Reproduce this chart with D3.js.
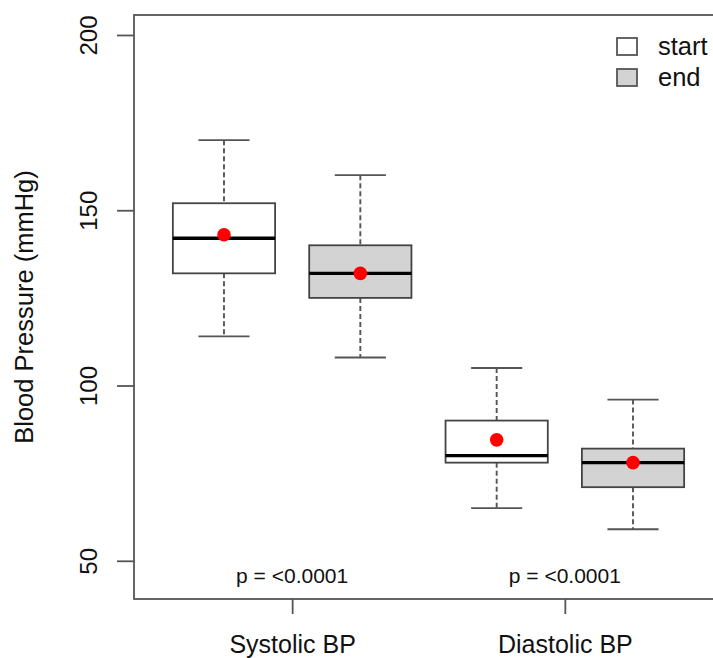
<!DOCTYPE html>
<html>
<head>
<meta charset="utf-8">
<script src="https://cdn.jsdelivr.net/npm/d3@7"></script>
<style>
  body { margin: 0; background: #fff; }
  svg { display: block; font-family: "Liberation Sans", Arial, sans-serif; }
</style>
</head>
<body>
<div id="chart"></div>
<script>
// groups on the x axis and the two time points
var groups = ["Systolic BP", "Diastolic BP"];
var phases = ["start", "end"];
var phaseFill = ["#ffffff", "#d3d3d3"];

// box stats per box, in order: Systolic start, Systolic end, Diastolic start, Diastolic end
var whiskerLow  = [114, 108, 65, 59];
var quart1      = [132, 125, 78, 71];
var medians     = [142, 132, 80, 78];
var quart3      = [152, 140, 90, 82];
var whiskerHigh = [170, 160, 105, 96];
var means       = [143, 132, 84.5, 78];

var pLabels = ["p = <0.0001", "p = <0.0001"];
var yTicks = [50, 100, 150, 200];

var width = 713, height = 658;
var margin = {top: 15, right: -10, bottom: 59, left: 134};
var plotW = width - margin.left - margin.right,
    plotH = height - margin.top - margin.bottom;

var svg = d3.select("#chart").append("svg")
    .attr("width", width)
    .attr("height", height);

var g = svg.append("g")
    .attr("transform", "translate(" + margin.left + "," + margin.top + ")");

// box positions 1..4 like R's boxplot, with the 4% padding
var xScale = d3.scaleLinear()
    .domain([0.34, 4.66])
    .range([0, plotW]);

var yScale = d3.scaleLinear()
    .domain([39.1, 205.7])
    .range([plotH, 0]);

var unit = xScale(2) - xScale(1);
var boxW = unit * 0.75;

var boxes = [];
groups.forEach(function(grp, gi) {
  phases.forEach(function(ph, pi) {
    var i = gi * 2 + pi;
    boxes.push({
      pos: i + 1, phase: pi,
      lo: whiskerLow[i], q1: quart1[i], med: medians[i],
      q3: quart3[i], hi: whiskerHigh[i], mean: means[i]
    });
  });
});

// frame
g.append("rect")
    .attr("x", 0).attr("y", 0)
    .attr("width", plotW).attr("height", plotH)
    .attr("fill", "none")
    .attr("stroke", "#555")
    .attr("stroke-width", 1.8);

// y axis
var yAxis = g.append("g")
    .call(d3.axisLeft(yScale).tickValues(yTicks).tickSize(17).tickPadding(0).tickFormat(d3.format("d")));
yAxis.select(".domain").remove();
yAxis.selectAll(".tick line").attr("stroke", "#555").attr("stroke-width", 1.8);
yAxis.selectAll(".tick text")
    .attr("transform", "rotate(-90)")
    .attr("x", 0).attr("y", -37)
    .attr("dy", 0)
    .attr("text-anchor", "middle")
    .style("font-size", "24px")
    .style("font-family", "'Liberation Sans', Arial, sans-serif")
    .attr("fill", "#111");

// x axis at group centres
var xAxis = g.append("g")
    .attr("transform", "translate(0," + plotH + ")")
    .call(d3.axisBottom(xScale).tickValues([1.5, 3.5]).tickSize(15).tickPadding(0)
      .tickFormat(function(d, i) { return groups[i]; }));
xAxis.select(".domain").remove();
xAxis.selectAll(".tick line").attr("stroke", "#555").attr("stroke-width", 1.8);
xAxis.selectAll(".tick text")
    .attr("y", 54).attr("dy", 0)
    .style("font-size", "25px")
    .style("font-family", "'Liberation Sans', Arial, sans-serif")
    .attr("fill", "#111");

// axis title
svg.append("text")
    .attr("transform", "translate(33," + (margin.top + plotH / 2) + ") rotate(-90)")
    .attr("text-anchor", "middle")
    .style("font-size", "25.5px")
    .attr("fill", "#111")
    .text("Blood Pressure (mmHg)");

// whiskers
var bx = g.selectAll(".box").data(boxes).enter().append("g").attr("class", "box");

bx.append("line")
    .attr("x1", function(d) { return xScale(d.pos); })
    .attr("x2", function(d) { return xScale(d.pos); })
    .attr("y1", function(d) { return yScale(d.hi); })
    .attr("y2", function(d) { return yScale(d.q3); })
    .attr("stroke", "#555").attr("stroke-width", 1.9).attr("stroke-dasharray", "5,3");
bx.append("line")
    .attr("x1", function(d) { return xScale(d.pos); })
    .attr("x2", function(d) { return xScale(d.pos); })
    .attr("y1", function(d) { return yScale(d.q1); })
    .attr("y2", function(d) { return yScale(d.lo); })
    .attr("stroke", "#555").attr("stroke-width", 1.9).attr("stroke-dasharray", "5,3");

["hi", "lo"].forEach(function(k) {
  bx.append("line")
      .attr("x1", function(d) { return xScale(d.pos) - boxW / 4; })
      .attr("x2", function(d) { return xScale(d.pos) + boxW / 4; })
      .attr("y1", function(d) { return yScale(d[k]); })
      .attr("y2", function(d) { return yScale(d[k]); })
      .attr("stroke", "#555").attr("stroke-width", 1.8);
});

bx.append("rect")
    .attr("x", function(d) { return xScale(d.pos) - boxW / 2; })
    .attr("y", function(d) { return yScale(d.q3); })
    .attr("width", boxW)
    .attr("height", function(d) { return yScale(d.q1) - yScale(d.q3); })
    .attr("fill", function(d) { return phaseFill[d.phase]; })
    .attr("stroke", "#444").attr("stroke-width", 1.8);

bx.append("line")
    .attr("x1", function(d) { return xScale(d.pos) - boxW / 2; })
    .attr("x2", function(d) { return xScale(d.pos) + boxW / 2; })
    .attr("y1", function(d) { return yScale(d.med); })
    .attr("y2", function(d) { return yScale(d.med); })
    .attr("stroke", "#000").attr("stroke-width", 3.4);

bx.append("circle")
    .attr("cx", function(d) { return xScale(d.pos); })
    .attr("cy", function(d) { return yScale(d.mean); })
    .attr("r", 6.8)
    .attr("fill", "#ff0000");

// p values
g.selectAll(".pval").data(pLabels).enter().append("text")
    .attr("class", "pval")
    .attr("x", function(d, i) { return xScale(1.5 + i * 2); })
    .attr("y", plotH - 16)
    .attr("text-anchor", "middle")
    .style("font-size", "21px")
    .attr("fill", "#111")
    .text(function(d) { return d; });

// legend
var legend = svg.selectAll(".legend").data(phases).enter().append("g")
    .attr("class", "legend")
    .attr("transform", function(d, i) { return "translate(617," + (38 + i * 31) + ")"; });
legend.append("rect")
    .attr("width", 20).attr("height", 17)
    .attr("fill", function(d, i) { return phaseFill[i]; })
    .attr("stroke", "#555").attr("stroke-width", 1.8);
legend.append("text")
    .attr("x", 41).attr("y", 17)
    .style("font-size", "25.5px")
    .attr("fill", "#111")
    .text(function(d) { return d; });
</script>
</body>
</html>
